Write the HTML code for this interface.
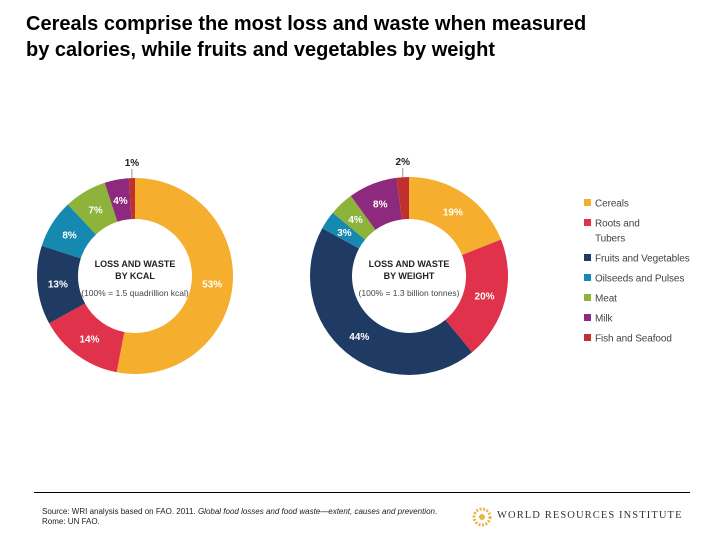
<!DOCTYPE html>
<html><head><meta charset="utf-8"><style>
body{margin:0;width:720px;height:540px;background:#fff;overflow:hidden;font-family:"Liberation Sans",sans-serif;position:relative}
#title{position:absolute;left:26px;top:11px;font-size:20px;font-weight:bold;line-height:26px;color:#000;margin:0}
#rule{position:absolute;left:34px;top:492px;width:656px;height:1px;background:#000}
#src{position:absolute;left:42px;top:507px;font-size:8px;line-height:10px;color:#222;width:405px}
#wri{position:absolute;left:497px;top:510px;font-family:"Liberation Serif",serif;font-size:10.5px;letter-spacing:1.1px;color:#333;white-space:nowrap}
</style></head><body>
<h1 id="title">Cereals comprise the most loss and waste when measured<br>by calories, while fruits and vegetables by weight</h1>
<svg id="chart" width="720" height="540" style="position:absolute;left:0;top:0"></svg>
<div id="rule"></div>
<div id="src">Source: WRI analysis based on FAO. 2011. <i>Global food losses and food waste—extent, causes and prevention</i>. Rome: UN FAO.</div>
<svg width="20" height="20" style="position:absolute;left:472px;top:507px"><circle cx="10" cy="10" r="8" fill="none" stroke="#e8b64a" stroke-width="3" stroke-dasharray="2 1.5"/><circle cx="10" cy="10" r="3" fill="#e8b64a"/></svg>
<div id="wri">WORLD RESOURCES INSTITUTE</div>
<script>
const categories=["Cereals","Roots and Tubers","Fruits and Vegetables","Oilseeds and Pulses","Meat","Milk","Fish and Seafood"];
const kcalValues=[53,14,13,8,7,4,1];
const weightValues=[19,20,44,3,4,8,2];
const colors=["#f5ae2d","#e0324b","#1f3b63","#1689b0","#8db33a","#8e2a7e","#c0302f"];
const svg=document.getElementById('chart');
const NS="http://www.w3.org/2000/svg";
function mk(t,a){const e=document.createElementNS(NS,t);for(const k in a)e.setAttribute(k,a[k]);svg.appendChild(e);return e;}
function pt(cx,cy,r,a){return [cx+r*Math.sin(a),cy-r*Math.cos(a)];}
function donut(vals,cx,cy,ro,ri,name,l1,l2,l3){
  const tot=vals.reduce((a,b)=>a+b,0);let acc=0;
  vals.forEach((v,i)=>{
    const a0=acc/tot*2*Math.PI;acc+=v;const a1=acc/tot*2*Math.PI;const lg=(a1-a0)>Math.PI?1:0;
    const [x0,y0]=pt(cx,cy,ro,a0),[x1,y1]=pt(cx,cy,ro,a1),[x2,y2]=pt(cx,cy,ri,a1),[x3,y3]=pt(cx,cy,ri,a0);
    const p=mk('path',{d:`M${x0},${y0}A${ro},${ro} 0 ${lg} 1 ${x1},${y1}L${x2},${y2}A${ri},${ri} 0 ${lg} 0 ${x3},${y3}Z`,fill:colors[i]});
    
    
    const am=(a0+a1)/2;
    let t;
    if(v<=2){
      const [lx,ly]=pt(cx,cy,ro,am);
      const ln=mk('line',{x1:lx,y1:ly,x2:lx,y2:ly-9,stroke:'#666','stroke-width':0.7});
      
      
      t=mk('text',{x:lx,y:ly-12,'text-anchor':'middle','font-size':10,'font-weight':'bold',fill:'#222'});
    }else{
      const [lx,ly]=pt(cx,cy,(ro+ri)/2,am);
      t=mk('text',{x:lx,y:ly+4,'text-anchor':'middle','font-size':10,'font-weight':'bold',fill:'#fff'});
    }
    t.textContent=v+'%';
    
    
  });
  [[l1,-9,9,'bold','#222'],[l2,3,9,'bold','#222'],[l3,20,8.5,'normal','#444']].forEach((d,j)=>{
    const t=mk('text',{x:cx,y:cy+d[1],'text-anchor':'middle','font-size':d[2],'font-weight':d[3],fill:d[4]});
    t.textContent=d[0];
    
    
  });
}
donut(kcalValues,135,276,98,57,'kcal-donut','LOSS AND WASTE','BY KCAL','(100% = 1.5 quadrillion kcal)');
donut(weightValues,409,276,99,57,'weight-donut','LOSS AND WASTE','BY WEIGHT','(100% = 1.3 billion tonnes)');
const legY=[203,223,258,278,298,318,338];
categories.forEach((c,i)=>{
  const r=mk('rect',{x:584,y:legY[i]-4,width:7,height:7,fill:colors[i]});
  
  
  const t=mk('text',{x:595,y:legY[i]+3.5,'font-size':10,fill:'#444','letter-spacing':'-0.1'});
  if(i===1){t.innerHTML='<tspan x="595">Roots and</tspan><tspan x="595" dy="15">Tubers</tspan>';}
  else t.textContent=c;
  
  
});
</script>
</body></html>
